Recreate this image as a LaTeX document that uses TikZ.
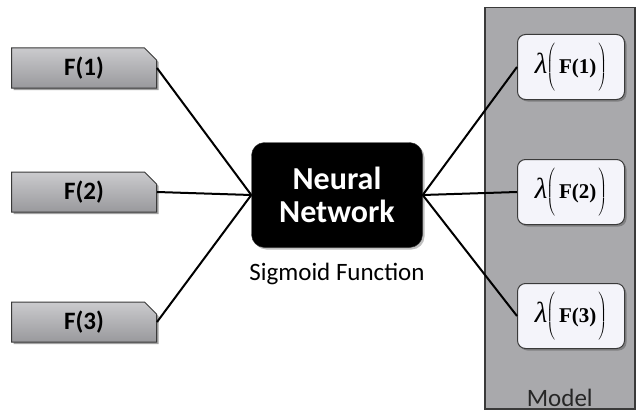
\documentclass[tikz,border=0pt]{standalone}
\usepackage{fontspec}
\setmainfont{Carlito}
\newfontfamily\serifbf{Liberation Serif}
\usetikzlibrary{shapes.misc,shadows}
\definecolor{fboxfill}{HTML}{B4B4B8}
\definecolor{modelfill}{HTML}{A9A9AC}
\definecolor{lamfill}{HTML}{F4F4FA}
\definecolor{edgegray}{HTML}{3A3A3A}
\tikzset{
  fbox/.style={chamfered rectangle, chamfered rectangle corners=north east,
    chamfered rectangle xsep=6pt, chamfered rectangle ysep=6pt,
    draw=edgegray, line width=1pt, top color=fboxfill!70!white, bottom color=fboxfill!85!black,
    minimum width=145pt, minimum height=40pt, inner sep=0pt,
    font=\fontsize{25}{28}\selectfont\bfseries,
    drop shadow={shadow xshift=2pt, shadow yshift=-2pt, fill=black!60, opacity=0.6}},
  nnbox/.style={rounded corners=13pt, fill=black, draw=black!80, text=white,
    minimum width=171pt, minimum height=105pt, align=center,
    font=\fontsize{32}{33}\selectfont\bfseries,
    drop shadow={shadow xshift=2pt, shadow yshift=-2pt, fill=black!50, opacity=0.5}},
  lambox/.style={rounded corners=8pt, fill=lamfill, draw=edgegray, line width=1pt,
    minimum width=107pt, minimum height=65pt, inner sep=0pt,
    drop shadow={shadow xshift=2pt, shadow yshift=-2pt, fill=black!60, opacity=0.6}},
  conn/.style={line width=2pt, black},
  lbl/.style={font=\fontsize{25}{28}\selectfont}
}
\newcommand{\lamtext}[1]{{\serifbf\fontsize{29}{30}\selectfont\itshape λ}\hspace{-1pt}\raisebox{4.5pt}{$\left(\vrule height 22pt depth 22pt width 0pt\hspace{4pt}\raisebox{-4.5pt}{\serifbf\bfseries\fontsize{21}{22}\selectfont #1}\hspace{2pt}\right)$}}
\begin{document}
\begin{tikzpicture}[x=1pt,y=-1pt]
\useasboundingbox (0,0) rectangle (636,412);
\fill[white] (0,0) rectangle (636,412);
% model panel
\node[draw=edgegray, line width=1.5pt, fill=modelfill, minimum width=150pt, minimum height=401pt,
  inner sep=0pt, anchor=north west] (model) at (484,7) {};
\node[lbl, anchor=south, text=black!85] (modellbl) at ([yshift=-1pt]model.south) {Model};
% input boxes
\node[fbox] (f1) at (84,68) {F(1)};
\node[fbox] (f2) at (84,192) {F(2)};
\node[fbox] (f3) at (84,322) {F(3)};
% neural network
\node[nnbox] (nn) at (337,195) {Neural\\Network};
\node[lbl, anchor=north] (sig) at ([yshift=-12pt]nn.south) {Sigmoid Function};
% output boxes
\node[lambox] (l1) at (571,67) {\lamtext{F(1)}};
\node[lambox] (l2) at (571,192) {\lamtext{F(2)}};
\node[lambox] (l3) at (571,316) {\lamtext{F(3)}};
% connectors
\draw[conn] (f1.east) -- (nn.west);
\draw[conn] (f2.east) -- (nn.west);
\draw[conn] (f3.east) -- (nn.west);
\draw[conn] (nn.east) -- (l1.west);
\draw[conn] (nn.east) -- (l2.west);
\draw[conn] (nn.east) -- (l3.west);
\end{tikzpicture}
\end{document}
